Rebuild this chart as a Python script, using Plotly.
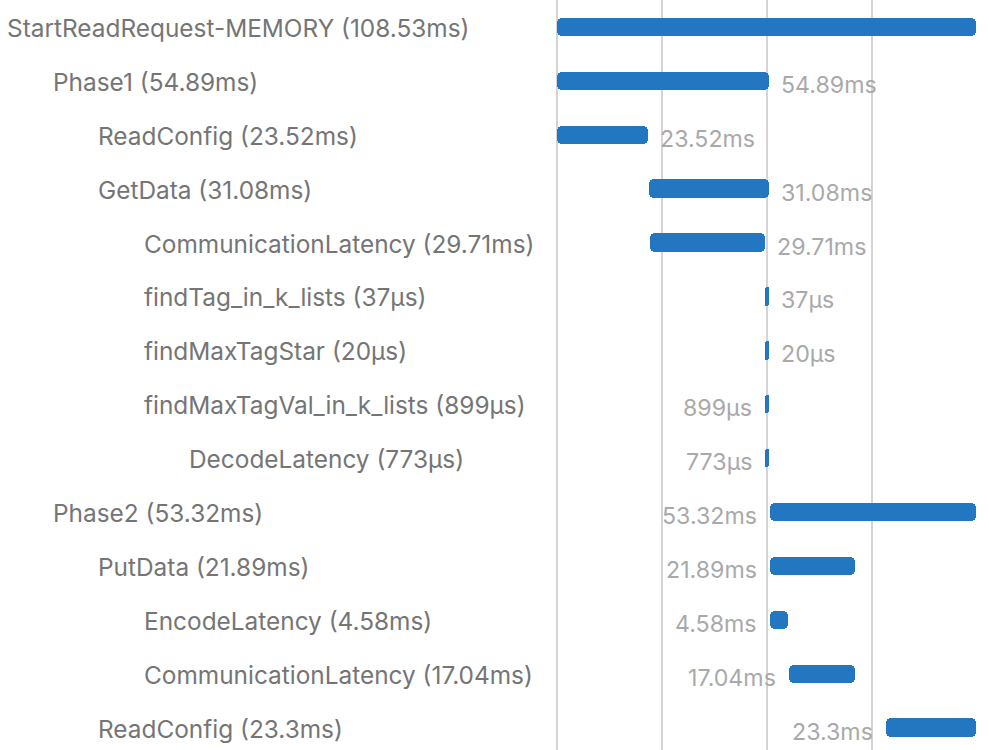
import plotly.graph_objects as go

# ---- data ----
span_names = ["StartReadRequest-MEMORY", "Phase1", "ReadConfig", "GetData",
              "CommunicationLatency", "findTag_in_k_lists", "findMaxTagStar",
              "findMaxTagVal_in_k_lists", "DecodeLatency", "Phase2", "PutData",
              "EncodeLatency", "CommunicationLatency", "ReadConfig"]
duration_text = ["108.53ms", "54.89ms", "23.52ms", "31.08ms", "29.71ms", "37µs", "20µs",
                 "899µs", "773µs", "53.32ms", "21.89ms", "4.58ms", "17.04ms", "23.3ms"]
duration_ms = [108.53, 54.89, 23.52, 31.08, 29.71, 0.037, 0.020,
               0.899, 0.773, 53.32, 21.89, 4.58, 17.04, 23.3]
start_ms = [0.0, 0.0, 0.0, 23.81, 24.05, 53.87, 53.87,
            53.83, 54.0, 55.2, 55.2, 55.2, 60.06, 85.23]
depth = [0, 1, 2, 2, 3, 3, 3, 3, 4, 1, 2, 3, 3, 2]
value_side = [None, "right", "right", "right", "right", "right", "right",
              "left", "left", "left", "left", "left", "left", "left"]
grid_ticks = [0, 27.2, 54.4, 81.6]

# ---- style ----
BAR_COLOR = "#2277c0"
LABEL_COLOR = "#757575"
VALUE_COLOR = "#a9a9a9"
FONT = "Inter, Liberation Sans, Arial, sans-serif"
MIN_VISIBLE_MS = 1.0

rows = list(range(len(span_names)))
shown_width = [max(d, MIN_VISIBLE_MS) for d in duration_ms]

fig = go.Figure()
fig.add_trace(go.Bar(
    orientation="h",
    y=rows,
    x=shown_width,
    base=start_ms,
    width=0.34,
    marker=dict(color=BAR_COLOR, cornerradius=5, line=dict(width=0)),
    hoverinfo="skip",
    showlegend=False,
))

annotations = []
L_MARGIN = 550
for i, name in enumerate(span_names):
    annotations.append(dict(
        xref="paper", yref="y", x=0, y=i,
        xanchor="left", yanchor="middle",
        xshift=5 + depth[i] * 45.5 - L_MARGIN, yshift=-1,
        text=f"{name} ({duration_text[i]})",
        showarrow=False,
        font=dict(family=FONT, size=24.4, color=LABEL_COLOR),
    ))
    side = value_side[i]
    if side == "right":
        annotations.append(dict(
            xref="x", yref="y", x=start_ms[i] + shown_width[i], y=i,
            xanchor="left", yanchor="middle", xshift=10, yshift=-4,
            text=duration_text[i], showarrow=False,
            font=dict(family=FONT, size=23.2, color=VALUE_COLOR),
        ))
    elif side == "left":
        annotations.append(dict(
            xref="x", yref="y", x=start_ms[i], y=i,
            xanchor="right", yanchor="middle", xshift=-11, yshift=-4,
            text=duration_text[i], showarrow=False,
            font=dict(family=FONT, size=23.2, color=VALUE_COLOR),
        ))

px_per_ms = 419 / 108.53
plot_w = 989 - L_MARGIN
x0 = -(557 - L_MARGIN) / px_per_ms
x1 = x0 + plot_w / px_per_ms

fig.update_layout(
    width=989, height=750,
    margin=dict(l=L_MARGIN, r=0, t=0, b=0),
    paper_bgcolor="white", plot_bgcolor="white",
    bargap=0,
    annotations=annotations,
    xaxis=dict(range=[x0, x1], tickvals=grid_ticks, showticklabels=False,
               showgrid=True, gridcolor="#d4d4d4", gridwidth=2,
               zeroline=False, showline=False, ticks="", fixedrange=True),
    yaxis=dict(range=[750 / 53.9 - 0.5, -0.5], showticklabels=False,
               showgrid=False, zeroline=False, showline=False, ticks="",
               fixedrange=True),
    font=dict(family=FONT),
)

fig.write_html("out.html",
               config={"displayModeBar": False},
               post_script="document.body.style.margin='0';document.body.style.overflow='hidden';")
